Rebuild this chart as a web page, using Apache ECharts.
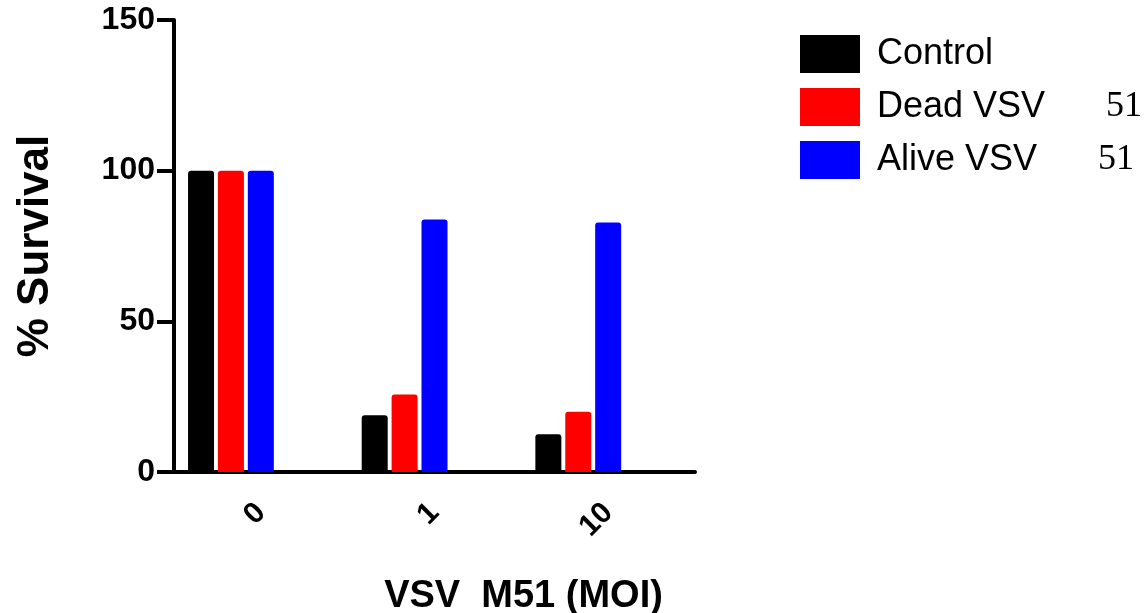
<!DOCTYPE html>
<html>
<head>
<meta charset="utf-8">
<script src="https://cdn.jsdelivr.net/npm/echarts@6/dist/echarts.min.js"></script>
<style>
  html, body { margin: 0; padding: 0; background: #fff; }
  #chart { width: 1145px; height: 613px; }
</style>
</head>
<body>
<div id="chart"></div>
<script>
    // data
    let categories = ['0', '1', '10'];
    let seriesNames = ['Control', 'Dead VSV', 'Alive VSV'];
    let nameSuffix = ['', '51', '51'];
    let control = [100, 18.8, 12.5];
    let deadVSV = [100, 25.7, 20.0];
    let aliveVSV = [100, 83.8, 82.8];
    let yTicks = [0, 50, 100, 150];

    let colors = ['#000000', '#ff0000', '#0000ff'];
    let sans = '"Liberation Sans", Arial, sans-serif';

    let myChart = echarts.init(document.getElementById('chart'));

    function bar(name, data, color) {
        return {
            name: name,
            type: 'bar',
            data: data,
            barWidth: 26,
            barGap: '15%',
            itemStyle: { color: color, borderRadius: [3, 3, 0, 0] }
        };
    }

    let option = {
        animation: false,
        grid: { left: 174, right: 450, top: 20, bottom: 141, containLabel: false, outerBoundsMode: 'none' },
        legend: {
            orient: 'vertical',
            left: 795,
            top: 30,
            itemWidth: 60,
            itemHeight: 38,
            itemGap: 15,
            icon: 'rect',
            data: seriesNames,
            formatter: function (name) {
                let i = seriesNames.indexOf(name);
                return nameSuffix[i] ? '{n|' + name + '}{s|' + nameSuffix[i] + '}' : '{n|' + name + '}';
            },
            textStyle: {
                padding: [0, 0, 0, 12],
                rich: {
                    n: { fontFamily: sans, fontSize: 36, color: '#000' },
                    s: { fontFamily: '"Liberation Serif", "Times New Roman", serif', fontSize: 36, color: '#000', padding: [0, 0, 0, 61] }
                }
            }
        },
        xAxis: {
            type: 'category',
            data: categories,
            name: 'VSV  M51 (MOI)',
            nameLocation: 'middle',
            nameGap: 106,
            nameTextStyle: { fontFamily: sans, fontWeight: 'bold', fontSize: 38, color: '#000', padding: [0, 0, 0, 178] },
            axisLine: { lineStyle: { color: '#000', width: 4 } },
            axisTick: { alignWithLabel: true, length: 14, lineStyle: { width: 4, color: '#000' } },
            axisLabel: { rotate: 45, margin: 36, fontFamily: sans, fontWeight: 'bold', fontSize: 30, color: '#000' }
        },
        yAxis: {
            type: 'value',
            min: yTicks[0],
            max: yTicks[yTicks.length - 1],
            interval: yTicks[1] - yTicks[0],
            name: '% Survival',
            nameLocation: 'middle',
            nameGap: 116,
            nameTextStyle: { fontFamily: sans, fontWeight: 'bold', fontSize: 44, color: '#000' },
            axisLine: { show: true, lineStyle: { color: '#000', width: 4 } },
            axisTick: { show: true, length: 17, lineStyle: { width: 4, color: '#000' } },
            axisLabel: { margin: 19, fontFamily: sans, fontWeight: 'bold', fontSize: 32, color: '#000' },
            splitLine: { show: false }
        },
        series: [
            bar('Control', control, colors[0]),
            bar('Dead VSV', deadVSV, colors[1]),
            bar('Alive VSV', aliveVSV, colors[2]),
            // empty slots so the three bars sit left of the tick, as in the original
            bar('spare1', [null, null, null], 'transparent'),
            bar('spare2', [null, null, null], 'transparent')
        ]
    };

    myChart.setOption(option);
</script>
</body>
</html>
